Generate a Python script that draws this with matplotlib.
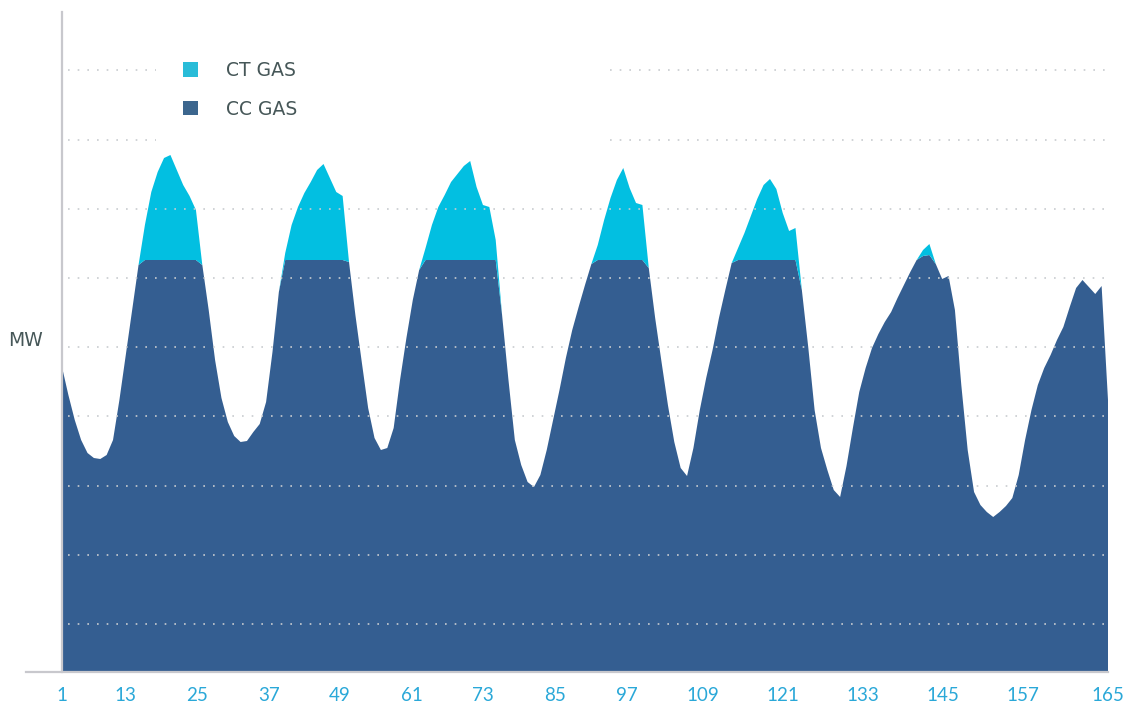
import matplotlib
matplotlib.use("Agg")
import matplotlib.pyplot as plt
from matplotlib.patches import Patch

# hourly generation, MW
hours = list(range(1, 166))

cc_gas = [
    3050, 2770, 2520, 2320, 2190, 2140, 2130, 2170, 2320, 2720, 3170, 3620,
    4070, 4120, 4120, 4120, 4120, 4120, 4120, 4120, 4120, 4120, 4070, 3620,
    3120, 2740, 2500, 2360, 2300, 2310, 2400, 2480, 2700, 3200, 3800, 4120,
    4120, 4120, 4120, 4120, 4120, 4120, 4120, 4120, 4120, 4100, 3570, 3100,
    2640, 2340, 2220, 2240, 2440, 2920, 3340, 3720, 4020, 4120, 4120, 4120,
    4120, 4120, 4120, 4120, 4120, 4120, 4120, 4120, 4120, 3570, 2920, 2320,
    2070, 1900, 1850, 1970, 2220, 2520, 2820, 3140, 3420, 3650, 3870, 4080,
    4120, 4120, 4120, 4120, 4120, 4120, 4120, 4120, 4040, 3540, 3100, 2670,
    2300, 2040, 1960, 2240, 2620, 2940, 3220, 3540, 3820, 4090, 4120, 4120,
    4120, 4120, 4120, 4120, 4120, 4120, 4120, 4120, 3820, 3250, 2620, 2240,
    2020, 1820, 1750, 2060, 2440, 2800, 3040, 3240, 3380, 3500, 3600, 3740,
    3870, 4000, 4120, 4160, 4170, 4080, 3930, 3960, 3620, 2870, 2220, 1800,
    1670, 1600, 1550, 1600, 1660, 1740, 1970, 2320, 2620, 2870, 3040, 3170,
    3320, 3450, 3650, 3840, 3920, 3850, 3780, 3860, 2720,
]

ct_gas = [
    0, 0, 0, 0, 0, 0, 0, 0, 0, 0, 0, 0,
    0, 350, 680, 880, 1020, 1050, 900, 750, 640, 500, 0, 0,
    0, 0, 0, 0, 0, 0, 0, 0, 0, 0, 0, 70,
    350, 530, 670, 780, 900, 960, 820, 680, 640, 0, 0, 0,
    0, 0, 0, 0, 0, 0, 0, 0, 0, 120, 350, 530,
    650, 780, 860, 940, 990, 730, 550, 530, 200, 0, 0, 0,
    0, 0, 0, 0, 0, 0, 0, 0, 0, 0, 0, 0,
    150, 400, 620, 800, 920, 720, 570, 550, 0, 0, 0, 0,
    0, 0, 0, 0, 0, 0, 0, 0, 0, 0, 120, 270,
    440, 610, 750, 810, 710, 470, 290, 320, 0, 0, 0, 0,
    0, 0, 0, 0, 0, 0, 0, 0, 0, 0, 0, 0,
    0, 0, 0, 60, 110, 0, 0, 0, 0, 0, 0, 0,
    0, 0, 0, 0, 0, 0, 0, 0, 0, 0, 0, 0,
    0, 0, 0, 0, 0, 0, 0, 0, 0,
]

tick_labels = ["1", "13", "25", "37", "49", "61", "73", "85", "97",
               "109", "121", "133", "145", "157", "165"]
# label positions as placed in the original chart
tick_pos = [1, 11.0, 22.2, 33.5, 44.6, 55.9, 67.0, 78.3, 89.6,
            101.5, 114.0, 126.6, 139.1, 151.7, 165]

grid_levels = [480, 1172, 1864, 2556, 3248, 3940, 4632, 5324, 6016]

CC_COLOR = "#345e91"
CT_COLOR = "#02bfe1"

fig = plt.figure(figsize=(11.3, 7.06), dpi=100)
ax = fig.add_axes([62 / 1130, 34 / 706, 1046 / 1130, 660 / 706])

ax.stackplot(hours, cc_gas, ct_gas, colors=[CC_COLOR, CT_COLOR],
             linewidth=0, zorder=2)

ax.set_xlim(1, 165)
ax.set_ylim(0, 6600)

# dotted grid, drawn over the areas; the top two are broken by the legend
ytrans = ax.get_yaxis_transform()
for i, lvl in enumerate(grid_levels):
    spans = [(0.006, 1.002)]
    if i >= len(grid_levels) - 2:
        spans = [(0.006, 0.09), (0.524, 1.002)]
    for x0, x1 in spans:
        ax.plot([x0, x1], [lvl, lvl], transform=ytrans, color="#c8ccd0",
                lw=1.2, linestyle=(0, (1, 4.8)), clip_on=False, zorder=3)

for s in ["top", "right", "bottom"]:
    ax.spines[s].set_visible(False)
ax.spines["left"].set_color("#c8c8cd")
ax.spines["left"].set_linewidth(1.6)
ax.spines["left"].set_zorder(5)
ax.plot([-0.034, 1.0], [0, 0], transform=ax.transAxes, color="#c8c8cd",
        lw=1.6, clip_on=False, zorder=5)

ax.set_yticks([])
ax.set_xticks(tick_pos)
ax.set_xticklabels(tick_labels, family="Lato")
ax.tick_params(axis="x", length=0, pad=11, labelsize=13.5, labelcolor="#2aa8d8")

fig.text(0.007, (706 - 341) / 706, "MW", fontsize=13.5, color="#465758",
         va="center", ha="left")

handles = [Patch(facecolor="#29bcd8", edgecolor="none", label="CT GAS"),
           Patch(facecolor="#3c668e", edgecolor="none", label="CC GAS")]
leg = ax.legend(handles=handles, loc="upper left",
                bbox_to_anchor=((183 - 62) / 1046, (672 - 61) / 660),
                frameon=False, fontsize=13.5, handlelength=0.82,
                handleheight=0.82, handletextpad=1.45, labelspacing=1.05,
                borderpad=0, borderaxespad=0)
for t in leg.get_texts():
    t.set_color("#465758")

fig.savefig("out.png", dpi=100)
